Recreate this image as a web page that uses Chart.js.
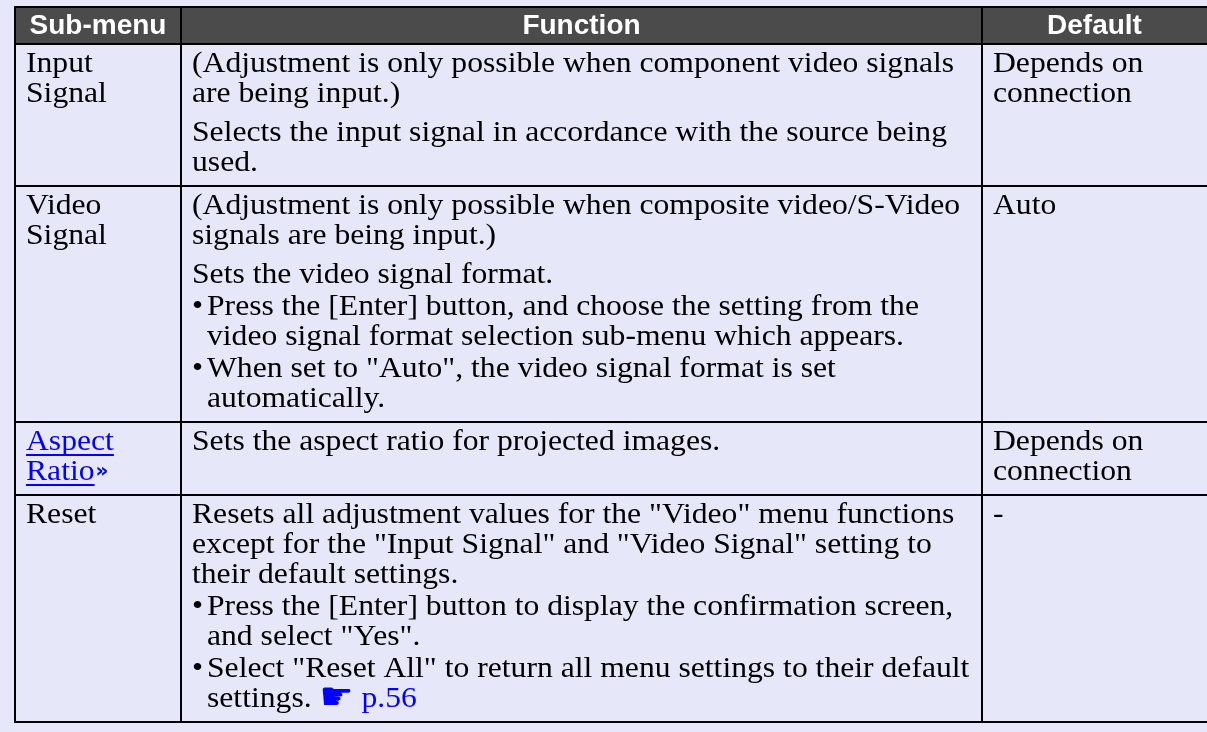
<!DOCTYPE html>
<html>
<head>
<meta charset="utf-8">
<title>Video menu</title>
<script src="https://cdn.jsdelivr.net/npm/chart.js@4.4.1/dist/chart.umd.min.js"></script>
<style>
  html, body { margin: 0; padding: 0; background: #e6e7f8; }
  #wrap { width: 1207px; height: 732px; }
</style>
</head>
<body>
<div id="wrap"><canvas id="menuTable" width="1207" height="732"></canvas></div>
<script>
// column titles
const headers = ['Sub-menu', 'Function', 'Default']

// first column, one entry per printed line
const subMenus = [['Input', 'Signal'], ['Video', 'Signal'], ['Aspect', 'Ratio'], ['Reset']]
const subMenuIsLink = [false, false, true, false]

// function column: paragraphs of lines. kind 'note' = the bracketed remark, 'p' = plain, 'b' = bullet
const functionTexts = [
    [
        {kind: 'note', lines: ['(Adjustment is only possible when component video signals', 'are being input.)']},
        {kind: 'p', lines: ['Selects the input signal in accordance with the source being', 'used.']}
    ],
    [
        {kind: 'note', lines: ['(Adjustment is only possible when composite video/S-Video', 'signals are being input.)']},
        {kind: 'p', lines: ['Sets the video signal format.']},
        {kind: 'b', lines: ['Press the [Enter] button, and choose the setting from the', 'video signal format selection sub-menu which appears.']},
        {kind: 'b', lines: ['When set to "Auto", the video signal format is set', 'automatically.']}
    ],
    [
        {kind: 'p', lines: ['Sets the aspect ratio for projected images.']}
    ],
    [
        {kind: 'p', lines: ['Resets all adjustment values for the "Video" menu functions', 'except for the "Input Signal" and "Video Signal" setting to', 'their default settings.']},
        {kind: 'b', lines: ['Press the [Enter] button to display the confirmation screen,', 'and select "Yes".']},
        {kind: 'b', lines: ['Select "Reset All" to return all menu settings to their default', 'settings.']}
    ]
]
// page reference printed after the last line of a row
const pageRefs = [null, null, null, 'p.56']

const defaultValues = [['Depends on', 'connection'], ['Auto'], ['Depends on', 'connection'], ['-']]

// layout (table units = canvas pixels)
const colEdges = [15, 181, 982, 1207]
const headTop = 7
const headBottom = 44
const firstBaseline = 28
const lineStep = 30
const noteGap = 9
const bulletGap = 2
const bottomPad = 15

const bodyFont = '30px "Liberation Serif", "Times New Roman", serif'
const bodyStretch = 1.055   // print face is a little wider than Liberation Serif
const headFont = 'bold 28px "Liberation Sans", Arial, sans-serif'
const linkBlue = '#0000ff'

// works out baselines for one function cell, relative to row top
function layoutParagraphs(paragraphs) {
    let out = []
    let y = firstBaseline
    for (let p = 0; p < paragraphs.length; p++) {
        let para = paragraphs[p]
        if (p > 0) {
            y = y + lineStep
            if (paragraphs[p - 1].kind == 'note') {
                y = y + noteGap
            } else if (para.kind == 'b') {
                y = y + bulletGap
            }
        }
        for (let l = 0; l < para.lines.length; l++) {
            if (l > 0) y = y + lineStep
            out.push({text: para.lines[l], y: y, bullet: para.kind == 'b' && l == 0, indent: para.kind == 'b'})
        }
    }
    return {lines: out, height: y + bottomPad}
}

function simpleCellHeight(lines) {
    return firstBaseline + (lines.length - 1) * lineStep + bottomPad
}

// body text drawn slightly stretched, returns drawn width
function bodyText(ctx, text, x, y) {
    ctx.font = bodyFont
    ctx.save()
    ctx.translate(x, y)
    ctx.scale(bodyStretch, 1)
    ctx.fillText(text, 0, 0)
    ctx.restore()
    return ctx.measureText(text).width * bodyStretch
}

const tablePlugin = {
    id: 'menuTable',
    beforeDraw(chart) {
        let ctx = chart.ctx
        ctx.save()
        ctx.fillStyle = '#e6e7f8'
        ctx.fillRect(0, 0, chart.width, chart.height)
        ctx.restore()
    },
    afterDraw(chart) {
        let ctx = chart.ctx
        let xs = chart.scales.x
        let ys = chart.scales.y
        let px = v => xs.getPixelForValue(v)
        let py = v => ys.getPixelForValue(v)

        // rows from the text they hold
        let rowTops = [headBottom]
        let rowLayouts = []
        for (let i = 0; i < functionTexts.length; i++) {
            let lay = layoutParagraphs(functionTexts[i])
            rowLayouts.push(lay)
            let h = Math.max(lay.height, simpleCellHeight(subMenus[i]), simpleCellHeight(defaultValues[i]))
            rowTops.push(rowTops[i] + h)
        }
        let tableBottom = rowTops[rowTops.length - 1]

        ctx.save()
        // header band
        ctx.fillStyle = '#4b4b4b'
        ctx.fillRect(px(colEdges[0]), py(headTop), px(colEdges[3]) - px(colEdges[0]), py(headBottom) - py(headTop))

        ctx.fillStyle = '#ffffff'
        ctx.font = headFont
        ctx.textAlign = 'center'
        ctx.textBaseline = 'alphabetic'
        for (let c = 0; c < headers.length; c++) {
            let mid = (colEdges[c] + colEdges[c + 1]) / 2
            ctx.fillText(headers[c], px(mid), py(headTop + 27))
        }

        // grid lines
        ctx.strokeStyle = '#000000'
        ctx.lineWidth = 2
        ctx.beginPath()
        let hLines = [headTop].concat(rowTops)
        for (let i = 0; i < hLines.length; i++) {
            ctx.moveTo(px(colEdges[0] - 1), py(hLines[i]))
            ctx.lineTo(px(colEdges[3]), py(hLines[i]))
        }
        for (let c = 0; c < 3; c++) {
            ctx.moveTo(px(colEdges[c]), py(headTop - 1))
            ctx.lineTo(px(colEdges[c]), py(tableBottom + 1))
        }
        ctx.stroke()

        // body text
        ctx.textAlign = 'left'
        for (let r = 0; r < functionTexts.length; r++) {
            let top = rowTops[r]

            // sub-menu
            for (let l = 0; l < subMenus[r].length; l++) {
                let x = px(colEdges[0] + 11)
                let y = py(top + firstBaseline + l * lineStep)
                ctx.fillStyle = subMenuIsLink[r] ? linkBlue : '#000000'
                let w = bodyText(ctx, subMenus[r][l], x, y)
                if (subMenuIsLink[r]) {
                    ctx.fillRect(x, y + 4, w, 2)
                    if (l == subMenus[r].length - 1) {
                        ctx.font = 'bold 20px "DejaVu Sans", sans-serif'
                        ctx.fillText('\u00bb', x + w + 1, y - 3)
                    }
                }
            }

            // function
            let lay = rowLayouts[r]
            for (let l = 0; l < lay.lines.length; l++) {
                let ln = lay.lines[l]
                let y = py(top + ln.y)
                ctx.fillStyle = '#000000'
                if (ln.bullet) bodyText(ctx, '\u2022', px(colEdges[1] + 11), y)
                let x = px(colEdges[1] + (ln.indent ? 26 : 11))
                let w = bodyText(ctx, ln.text + ' ', x, y)
                if (l == lay.lines.length - 1 && pageRefs[r]) {
                    let after = x + w
                    ctx.fillStyle = linkBlue
                    ctx.font = '38px "DejaVu Sans", sans-serif'
                    ctx.fillText('\u261b', after, y + 2)
                    let handW = ctx.measureText('\u261b').width
                    bodyText(ctx, ' ' + pageRefs[r], after + handW, y)
                }
            }

            // default
            ctx.fillStyle = '#000000'
            for (let l = 0; l < defaultValues[r].length; l++) {
                bodyText(ctx, defaultValues[r][l], px(colEdges[2] + 11), py(top + firstBaseline + l * lineStep))
            }
        }
        ctx.restore()
    }
}

new Chart(document.getElementById('menuTable'), {
    type: 'scatter',
    data: {datasets: [{data: []}]},
    options: {
        responsive: false,
        animation: false,
        devicePixelRatio: 1,
        layout: {padding: 0},
        plugins: {legend: {display: false}, tooltip: {enabled: false}},
        scales: {
            x: {type: 'linear', display: false, min: 0, max: 1207},
            y: {type: 'linear', display: false, min: 0, max: 732, reverse: true}
        }
    },
    plugins: [tablePlugin]
})
</script>
</body>
</html>
